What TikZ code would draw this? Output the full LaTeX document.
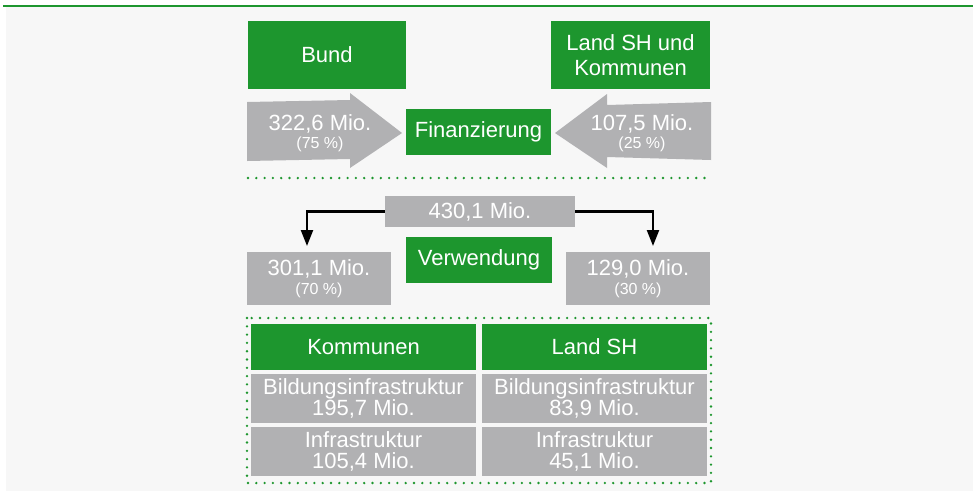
\documentclass[tikz,border=0pt]{standalone}
\usepackage{fontspec}
\setmainfont{Liberation Sans}
\usetikzlibrary{arrows.meta}
\definecolor{bggray}{HTML}{F7F7F7}
\definecolor{fgreen}{HTML}{1D962E}
\definecolor{fgray}{HTML}{B1B1B3}
\begin{document}
\begin{tikzpicture}[x=1pt,y=-1pt,
  greenbox/.style={fill=fgreen, text=white, inner sep=0pt, font=\fontsize{22}{25}\selectfont, align=center},
  graybox/.style={fill=fgray, text=white, inner sep=0pt, font=\fontsize{22}{21}\selectfont, align=center},
  arrowlabel/.style={text=white, inner sep=0pt, font=\fontsize{22}{18}\selectfont, align=center},
  flowarrow/.style={fill=fgray, draw=none},
  sepline/.style={draw=fgreen, line width=2.6pt, line cap=round, dash pattern=on 0pt off 8.3pt},
  conn/.style={draw=black, line width=2.2pt, -{Triangle[length=16pt,width=12pt]}}]
\useasboundingbox (0,0) rectangle (978,491);
\fill[bggray] (6,7) rectangle (973,491);
\draw[fgreen, line width=1.6pt] (3,6) -- (973,6);

% Financing
\node[greenbox, minimum width=158pt, minimum height=68pt] (bund) at (327,55) {Bund};
\node[greenbox, minimum width=159pt, minimum height=68pt] (land) at (630.5,55) {Land SH und\\Kommunen};

\fill[flowarrow] (247,102) -- (350,100) -- (350,93) -- (402,133) -- (350,168) -- (350,159) -- (247,161) -- cycle;
\fill[flowarrow] (711,102) -- (607,105) -- (607,94) -- (555,133) -- (607,168) -- (607,157) -- (711,160) -- cycle;

\node[greenbox, minimum width=145pt, minimum height=46pt] (fin) at (478.5,132) {\raisebox{-1pt}{Finanzierung}};
\node[arrowlabel] (lbund) at (320,133) {322,6 Mio.\\{\fontsize{16}{18}\selectfont (75~\%)}};
\node[arrowlabel] (lland) at (642,133) {107,5 Mio.\\{\fontsize{16}{18}\selectfont (25~\%)}};

\draw[sepline] (248,178) -- (710,178);

% Usage
\node[graybox, minimum width=190pt, minimum height=31pt] (total) at (480,211.5) {430,1 Mio.};
\node[greenbox, minimum width=146pt, minimum height=46pt] (verw) at (479,260) {\raisebox{-1pt}{Verwendung}};
\node[graybox, minimum width=144pt, minimum height=53pt, font=\fontsize{22}{19}\selectfont] (komm) at (319,278.5) {301,1 Mio.\\{\fontsize{16}{19}\selectfont (70~\%)}};
\node[graybox, minimum width=144pt, minimum height=53pt, font=\fontsize{22}{19}\selectfont] (lsh) at (638,278.5) {129,0 Mio.\\{\fontsize{16}{19}\selectfont (30~\%)}};
\coordinate (tipL) at (307,246);
\coordinate (tipR) at (653,246);
\draw[conn] (total.west) -| (tipL);
\draw[conn] (total.east) -| (tipR);

% Table
\draw[sepline] (247,318) rectangle (711,483);
\node[greenbox, minimum width=225pt, minimum height=46pt] (hk) at (363.5,347) {Kommunen};
\node[greenbox, minimum width=225pt, minimum height=46pt] (hl) at (594.5,347) {Land SH};
\node[graybox, minimum width=225pt, minimum height=49pt] (bk) at (363.5,398.5) {Bildungsinfrastruktur\\195,7 Mio.};
\node[graybox, minimum width=225pt, minimum height=49pt] (bl) at (594.5,398.5) {Bildungsinfrastruktur\\83,9 Mio.};
\node[graybox, minimum width=225pt, minimum height=49pt] (ik) at (363.5,451.5) {Infrastruktur\\105,4 Mio.};
\node[graybox, minimum width=225pt, minimum height=49pt] (il) at (594.5,451.5) {Infrastruktur\\45,1 Mio.};
\end{tikzpicture}
\end{document}
